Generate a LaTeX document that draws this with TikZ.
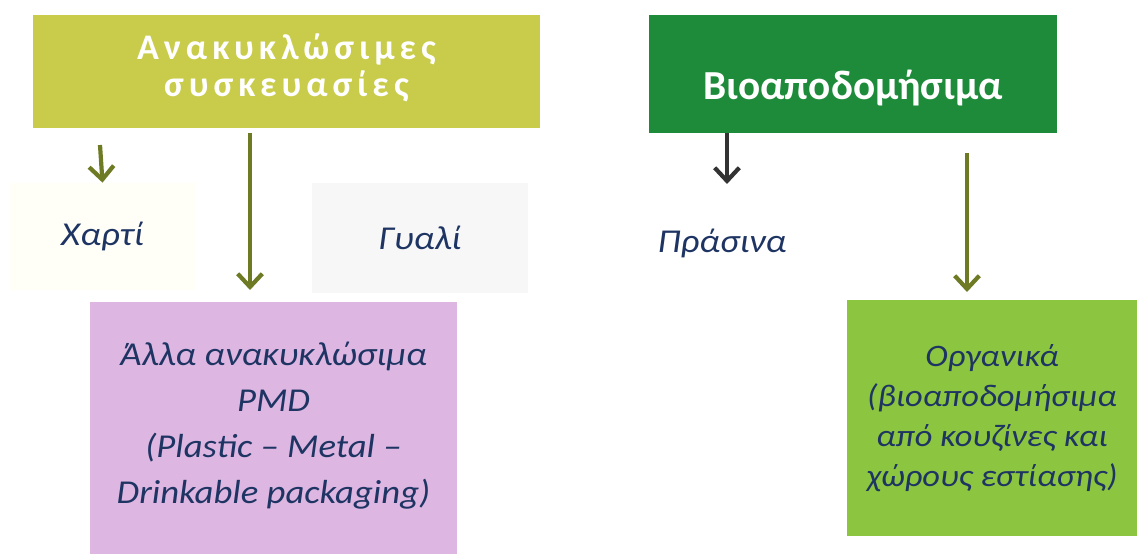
\documentclass[tikz,border=0pt]{standalone}
\usepackage{fontspec}
\setmainfont{Carlito}
\newfontfamily\spaced[LetterSpace=14]{Carlito}
\newfontfamily\wideit[FakeStretch=1.1]{Carlito}
\usepackage{tikz}
\usetikzlibrary{arrows.meta}

\definecolor{olivebox}{HTML}{C9CC4A}
\definecolor{darkgreen}{HTML}{1E8B3B}
\definecolor{pinkbox}{HTML}{DDB6E2}
\definecolor{lightgreen}{HTML}{8CC540}
\definecolor{textblue}{HTML}{1E3462}
\definecolor{arrowolive}{HTML}{6E7B24}
\definecolor{arrowdark}{HTML}{333333}

\tikzset{
    head/.style={fill=#1, inner sep=0pt},
    headtext/.style={text=white, inner sep=0pt, align=center},
    bin/.style={fill=#1, text=textblue, inner sep=0pt, align=center, font=\wideit\itshape\fontsize{19}{26.2}\selectfont},
    oarrow/.style={draw=arrowolive, line width=2.4pt, -{Straight Barb[length=7.5pt,width=14pt]}},
    darrow/.style={draw=arrowdark, line width=2.4pt, -{Straight Barb[length=7.5pt,width=14pt]}}
}

\begin{document}
\begin{tikzpicture}[x=0.02cm, y=-0.02cm]
    \useasboundingbox (0,0) rectangle (1137,554);

    % header boxes
    \node[head=olivebox, minimum width=507*0.02cm, minimum height=113*0.02cm] (recycle) at (286.5,71.5) {};
    \node[headtext, font=\spaced\bfseries\fontsize{20.5}{21}\selectfont] (recycletext) at (286.5,68)
          {Ανακυκλώσιμες\\συσκευασίες};
    \node[head=darkgreen, minimum width=408*0.02cm, minimum height=118*0.02cm] (bio) at (853,74) {};
    \node[headtext, font=\bfseries\fontsize{23.5}{24}\selectfont] (biotext) at (853,88) {Βιοαποδομήσιμα};

    % bins
    \node[bin={yellow!3}, minimum width=185*0.02cm, minimum height=107*0.02cm] (paper) at (102.5,236.5) {Χαρτί};
    \node[bin={black!3}, minimum width=216*0.02cm, minimum height=110*0.02cm] (glass) at (420,238) {Γυαλί};
    \node[bin=white] (green) at (722,243) {Πράσινα};
    \node[bin=pinkbox, minimum width=367*0.02cm, minimum height=252*0.02cm] (pmd) at (273.5,428) {};
    \node[bin=pinkbox] (pmdtext) at (273.5,426)
          {Άλλα ανακυκλώσιμα\\PMD\\(Plastic – Metal –\\Drinkable packaging)};
    \node[bin=lightgreen, minimum width=290*0.02cm, minimum height=236*0.02cm,
          font=\wideit\itshape\fontsize{17.8}{22.8}\selectfont] (organic) at (992,418)
          {Οργανικά\\(βιοαποδομήσιμα\\από κουζίνες και\\χώρους εστίασης)};

    % arrow ends
    \coordinate (p1) at (100,145);
    \coordinate (p2) at (250,133);
    \coordinate (q2) at (250,290);
    \coordinate (p3) at (727,133);
    \coordinate (q3) at (727,184);
    \coordinate (p4) at (967,153);
    \coordinate (q4) at (967,292);

    \draw[oarrow] (p1) -- (paper.north);
    \draw[oarrow] (p2) -- (q2);
    \draw[darrow] (p3) -- (q3);
    \draw[oarrow] (p4) -- (q4);
\end{tikzpicture}
\end{document}
